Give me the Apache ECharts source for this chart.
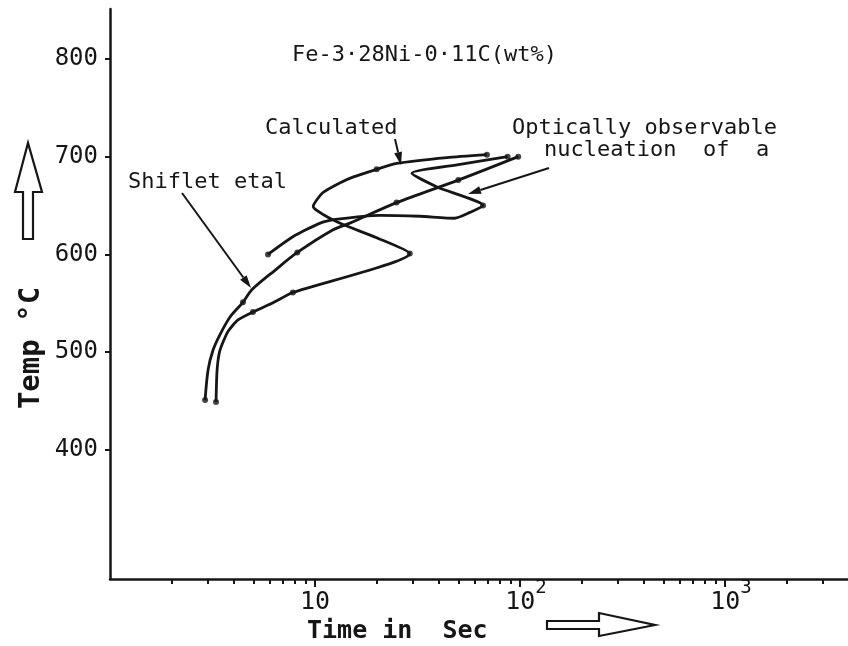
<!DOCTYPE html>
<html>
<head>
<meta charset="utf-8">
<script src="https://cdn.jsdelivr.net/npm/echarts@6/dist/echarts.min.js"></script>
<style>
    html, body { margin: 0; background: #fff; }
    #chart { width: 848px; height: 646px; }
</style>
</head>
<body>
<div id="chart"></div>
<script>
// [time in sec, temp in C]
var shiflet = [[2.91, 451], [3.01, 482], [3.18, 502], [3.44, 518], [3.85, 536], [4.45, 551], [4.93, 564],
    [6.4, 584], [8.2, 602], [12.2, 625], [14.8, 632], [25, 653], [50, 676], [98, 700]];
var shifletDots = [[2.91, 451], [4.45, 551], [8.2, 602], [25, 653], [50, 676], [98, 700]];

var calculated = [[3.29, 449], [3.33, 482], [3.44, 502], [3.76, 521], [4.21, 533], [4.98, 541], [6.17, 550],
    [7.8, 561], [29, 601], [20, 617], [14.3, 629], [11.8, 637], [10.2, 645], [9.8, 649], [10.9, 663],
    [13.2, 673], [15.3, 679], [20, 687], [25, 693], [44, 699], [69, 702]];
var calculatedDots = [[3.29, 449], [4.98, 541], [7.8, 561], [29, 601], [20, 687], [69, 702]];

var optical = [[5.9, 600], [7.8, 618], [10.6, 632], [12.9, 636], [20.7, 640], [32.5, 639], [48, 637],
    [57, 643], [66, 650], [39.4, 669], [29.7, 683], [51, 692], [87, 700]];
var opticalDots = [[5.9, 600], [66, 650], [87, 700]];

var tempTicks = [400, 500, 600, 700, 800];
var timeMinor = [2, 3, 4, 5, 6, 7, 8, 9, 20, 30, 40, 50, 60, 70, 80, 90,
    200, 300, 400, 500, 600, 700, 800, 900, 2000, 3000, 4000];
var timeDecades = [1, 2, 3];

var ink = '#161616';
var mono = '"DejaVu Sans Mono", monospace';

var toLog = function (arr) {
    return arr.map(function (p) { return [Math.log10(p[0]), p[1]]; });
};

var arrow = function (x1, y1, x2, y2) {
    var a = Math.atan2(y2 - y1, x2 - x1), len = 13, w = 4;
    var bx = x2 - len * Math.cos(a), by = y2 - len * Math.sin(a);
    return [
        {type: 'line', shape: {x1: x1, y1: y1, x2: bx, y2: by}, style: {stroke: ink, lineWidth: 2}},
        {type: 'polygon', shape: {points: [[x2, y2],
            [bx + w * Math.sin(a), by - w * Math.cos(a)],
            [bx - w * Math.sin(a), by + w * Math.cos(a)]]}, style: {fill: ink}}
    ];
};

var label = function (text, x, y, size, weight) {
    return {type: 'text', x: x, y: y, style: {text: text, fill: ink, fontFamily: mono,
        fontSize: size, fontWeight: weight || 'normal', textVerticalAlign: 'middle'}};
};

var lineSeries = function (name, data, smooth) {
    return {name: name, type: 'line', data: toLog(data), showSymbol: false, smooth: smooth,
        lineStyle: {color: ink, width: 2.8}, animation: false};
};
var dotSeries = function (data) {
    return {type: 'scatter', data: toLog(data), symbolSize: 6, itemStyle: {color: ink}, animation: false};
};

var graphics = [
    label('Fe-3·28Ni-0·11C(wt%)', 292, 55, 22),
    label('Calculated', 265, 128, 22),
    label('Shiflet etal', 128, 182, 22),
    label('Optically observable', 512, 128, 22),
    label('nucleation  of  a', 544, 150, 22),
    label('Time in  Sec', 307, 631, 25, 'bold'),
    {type: 'text', x: 31, y: 348, rotation: Math.PI / 2, style: {text: 'Temp °C', fill: ink, fontFamily: mono,
        fontSize: 29, fontWeight: 'bold', textAlign: 'center', textVerticalAlign: 'middle'}},
    // hollow arrows next to the axis names
    {type: 'polygon', shape: {points: [[23, 239], [23, 192], [15, 192], [28, 143], [42, 192], [33, 192], [33, 239]]},
        style: {fill: 'none', stroke: ink, lineWidth: 2.2}},
    {type: 'polygon', shape: {points: [[547, 621], [599, 621], [599, 613], [655, 625], [599, 636], [599, 629], [547, 629]]},
        style: {fill: 'none', stroke: ink, lineWidth: 2.2}}
].concat(arrow(395, 139, 401, 165), arrow(182, 193, 251, 288), arrow(549, 168, 468, 194));

var chart = echarts.init(document.getElementById('chart'));
chart.setOption({
    backgroundColor: '#fff',
    grid: {left: 110, right: 0, top: 9, bottom: 67},
    xAxis: [{
        type: 'value', min: 0, max: 3.6,
        axisLine: {lineStyle: {color: ink, width: 2.5}},
        axisTick: {customValues: timeMinor.map(Math.log10), length: 5, lineStyle: {color: ink, width: 2}},
        axisLabel: {show: false},
        splitLine: {show: false}
    }, {
        type: 'value', min: 0, max: 3.6, position: 'bottom',
        axisLine: {show: false},
        axisTick: {customValues: timeDecades, length: 8, lineStyle: {color: ink, width: 2}},
        axisLabel: {
            customValues: timeDecades, margin: 0,
            formatter: function (v) {
                return v === 1 ? '{a|10}' : '{p|}{a|10}{s|' + v + '}';
            },
            rich: {
                a: {fontFamily: mono, fontSize: 25, color: ink, lineHeight: 36, verticalAlign: 'bottom'},
                s: {fontFamily: mono, fontSize: 19, color: ink, lineHeight: 28, verticalAlign: 'top'},
                p: {width: 12}
            }
        },
        splitLine: {show: false}
    }],
    yAxis: {
        type: 'value', min: 268, max: 851,
        axisLine: {lineStyle: {color: ink, width: 2.5}},
        axisTick: {customValues: tempTicks, length: 5, lineStyle: {color: ink, width: 2}},
        axisLabel: {customValues: tempTicks, margin: 12, fontFamily: mono, fontSize: 24, color: ink},
        splitLine: {show: false}
    },
    series: [
        lineSeries('Shiflet etal', shiflet, 0.3),
        lineSeries('Calculated', calculated, 0.2),
        lineSeries('Optically observable nucleation', optical, 0.2),
        dotSeries(shifletDots),
        dotSeries(calculatedDots),
        dotSeries(opticalDots)
    ],
    graphic: graphics
});
</script>
</body>
</html>
